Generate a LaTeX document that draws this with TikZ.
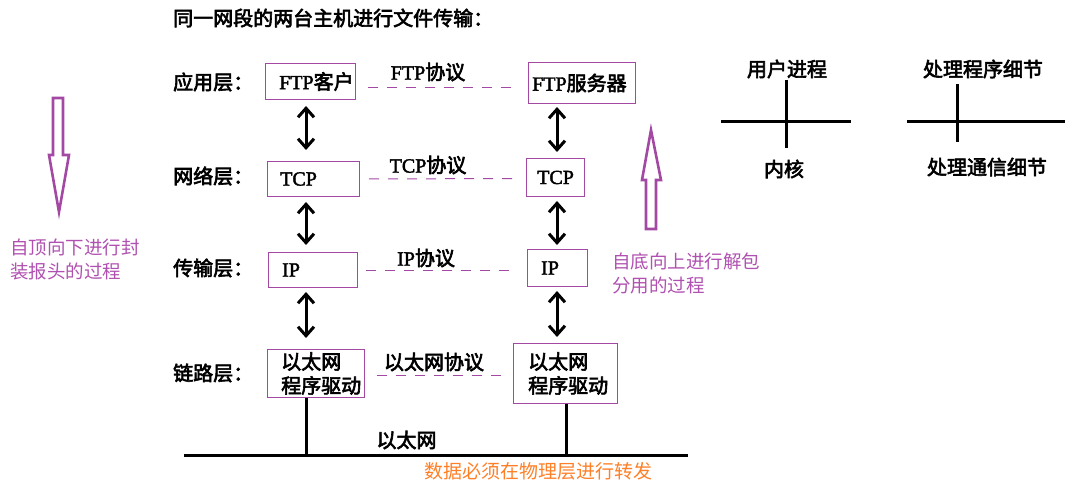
\documentclass[tikz,border=0pt]{standalone}
\usepackage{fontspec}
\setmainfont{Liberation Serif}[FakeBold=2]
\newfontfamily\cjk{Noto Sans CJK SC}
\newfontfamily\cjkm{Noto Sans CJK SC}[FakeBold=3]
\newcommand{\zh}[1]{{\cjkm #1}}
\usetikzlibrary{positioning, arrows.meta}
\definecolor{boxpurple}{HTML}{A349A4}
\definecolor{notepurple}{HTML}{B050B0}
\definecolor{noteorange}{HTML}{FF7F27}

\begin{document}
\begin{tikzpicture}[x=1pt, y=-1pt,
    box/.style={draw=boxpurple, line width=1pt, inner sep=0pt, anchor=north west},
    txt/.style={font=\fontsize{20}{24}\selectfont, inner sep=0pt, align=left},
    note/.style={font=\cjk\fontsize{18.5}{24}\selectfont, text=notepurple, inner sep=0pt, align=left, anchor=west},
    dbl/.style={{Straight Barb[length=9pt,width=16pt]}-{Straight Barb[length=9pt,width=16pt]}, line width=3pt},
    proto/.style={boxpurple, dash pattern=on 10pt off 9pt, line width=1pt},
    bus/.style={line width=3pt},
    bigarr/.style={draw=boxpurple, line width=2.6pt, line join=miter}
  ]
    \useasboundingbox (0,0) rectangle (1072,492);

    \node[txt, anchor=west] (title) at (173,18) {\zh{同一网段的两台主机进行文件传输：}};

    % layer names
    \node[txt, anchor=west] (app) at (173,82) {\zh{应用层：}};
    \node[txt, anchor=west] (net) at (173,176) {\zh{网络层：}};
    \node[txt, anchor=west] (trans) at (173,268) {\zh{传输层：}};
    \node[txt, anchor=west] (link) at (173,373) {\zh{链路层：}};

    % host A
    \node[box, minimum width=90pt, minimum height=36pt] (ftpc) at (265,63) {};
    \node[box, minimum width=92pt, minimum height=35pt] (tcpl) at (267,161) {};
    \node[box, minimum width=89pt, minimum height=35pt] (ipl) at (268,252) {};
    \node[box, minimum width=97pt, minimum height=48pt] (ethl) at (267,349) {};
    \node[txt, anchor=west] (ftpc-t) at ([xshift=14pt]ftpc.west) {FTP\zh{客户}};
    \node[txt, anchor=west] (tcpl-t) at ([xshift=13pt]tcpl.west) {TCP};
    \node[txt, anchor=west] (ipl-t) at ([xshift=14pt]ipl.west) {IP};
    \node[txt, anchor=west] (ethl-t) at ([xshift=14pt]ethl.west) {\zh{以太网}\\\zh{程序驱动}};

    % host B
    \node[box, minimum width=107pt, minimum height=41pt] (ftps) at (528,62) {};
    \node[box, minimum width=58pt, minimum height=38pt] (tcpr) at (526,158) {};
    \node[box, minimum width=60pt, minimum height=37pt] (ipr) at (527,249) {};
    \node[box, minimum width=104pt, minimum height=60pt] (ethr) at (513,343) {};
    \node[txt, anchor=west] (ftps-t) at ([xshift=4pt]ftps.west) {FTP\zh{服务器}};
    \node[txt, anchor=west] (tcpr-t) at ([xshift=11pt]tcpr.west) {TCP};
    \node[txt, anchor=west] (ipr-t) at ([xshift=14pt]ipr.west) {IP};
    \node[txt, anchor=west] (ethr-t) at ([xshift=15pt]ethr.west) {\zh{以太网}\\\zh{程序驱动}};

    % protocols
    \node[txt] (ftpp) at (428,72) {FTP\zh{协议}};
    \node[txt] (tcpp) at (428,165) {TCP\zh{协议}};
    \node[txt] (ipp) at (426,258) {IP\zh{协议}};
    \node[txt] (ethp) at (434,362) {\zh{以太网协议}};
    \draw[proto] ([xshift=12pt,yshift=-6pt]ftpc.east) -- ([xshift=-15pt,yshift=-4.5pt]ftps.west);
    \draw[proto] ([xshift=9pt]tcpl.east) -- ([xshift=-13pt,yshift=-1pt]tcpr.west);
    \draw[proto] ([xshift=8pt,yshift=-0.5pt]ipl.east) -- ([xshift=-10pt,yshift=-2.5pt]ipr.west);
    \draw[proto] ([xshift=12pt,yshift=-2pt]ethl.east) -- ([xshift=-10pt,yshift=-2pt]ethr.west);

    % up and down the stack
    \coordinate (lx) at (306,0);
    \coordinate (rx) at (557,0);
    \draw[dbl, shorten <=6pt, shorten >=11pt] (ftpc.south -| lx) -- (tcpl.north -| lx);
    \draw[dbl, shorten <=5pt, shorten >=7pt] (tcpl.south -| lx) -- (ipl.north -| lx);
    \draw[dbl, shorten <=4pt, shorten >=11pt] (ipl.south -| lx) -- (ethl.north -| lx);
    \draw[dbl, shorten <=3pt, shorten >=6pt] (ftps.south -| rx) -- (tcpr.north -| rx);
    \draw[dbl, shorten <=4pt, shorten >=4pt] (tcpr.south -| rx) -- (ipr.north -| rx);
    \draw[dbl, shorten <=4pt, shorten >=6pt] (ipr.south -| rx) -- (ethr.north -| rx);

    % the wire
    \coordinate (busw) at (184,455);
    \coordinate (buse) at (688,455);
    \coordinate (rbus) at (566,0);
    \draw[bus] (busw) -- (buse);
    \draw[bus] (ethl.south -| lx) -- (lx |- busw);
    \draw[bus] (ethr.south -| rbus) -- (rbus |- busw);
    \node[txt] (wire) at (406.5,440) {\zh{以太网}};
    \node[font=\cjk\fontsize{19}{24}\selectfont, text=noteorange, inner sep=0pt] (phys) at (538.5,471) {数据必须在物理层进行转发};

    % encapsulate / demultiplex
    \draw[bigarr] (53,98) -- (63,98) -- (63,155) -- (69,155) -- (59,212) -- (49,155) -- (53,155) -- cycle;
    \node[note] (down) at (10,259.5) {自顶向下进行封\\装报头的过程};
    \draw[bigarr] (646,229) -- (656,229) -- (656,180) -- (661,180) -- (651,130) -- (642,180) -- (646,180) -- cycle;
    \node[note, text width=160pt] (up) at (612,273.5) {自底向上进行解包\\分用的过程};

    % user / kernel
    \node[txt] (user) at (787,69) {\zh{用户进程}};
    \node[txt] (kernel) at (784,169) {\zh{内核}};
    \draw[bus] (721,122) -- (851,122);
    \draw[bus] (786,80) -- (786,148);
    \node[txt] (prog) at (983,69) {\zh{处理程序细节}};
    \node[txt] (comm) at (987,167) {\zh{处理通信细节}};
    \draw[bus] (907,122) -- (1065,122);
    \draw[bus] (957,84) -- (957,142);
\end{tikzpicture}
\end{document}
